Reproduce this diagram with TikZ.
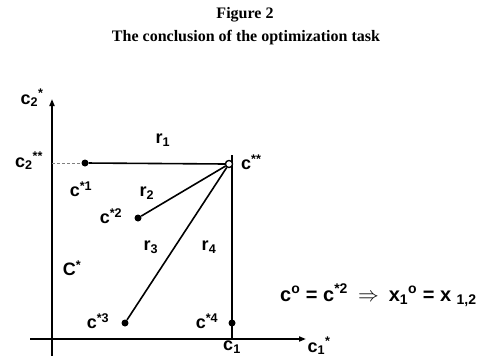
\documentclass[tikz,border=0pt]{standalone}
\usepackage{fontspec}
\setmainfont{Liberation Serif}
\setsansfont{Liberation Sans}
\usetikzlibrary{arrows.meta}
\newcommand\sps[1]{\textsuperscript{#1}}
\newcommand\sbs[1]{\textsubscript{#1}}
\begin{document}
\begin{tikzpicture}[x=1pt,y=-1pt,
  ttl/.style={font=\bfseries\fontsize{16}{16}\selectfont, inner sep=0pt},
  lbl/.style={font=\sffamily\bfseries\fontsize{18}{18}\selectfont, inner sep=0pt},
  axis/.style={line width=2pt, -{Triangle[length=7pt,width=5pt]}},
  edge/.style={line width=1.6pt},
  guide/.style={line width=0.7pt, dash pattern=on 3pt off 2pt, gray},
  dot/.style={circle, fill=black, inner sep=0pt, minimum size=7pt},
  odot/.style={circle, draw=black, line width=1.2pt, fill=white, inner sep=0pt, minimum size=7pt}]
\useasboundingbox (0,0) rectangle (491,356);
% titles
\node[ttl] (t1) at (245,15) {Figure 2};
\node[ttl] (t2) at (246,38) {The conclusion of the optimization task};
% axes
\coordinate (yb) at (52,356);
\coordinate (yt) at (52,99);
\coordinate (xl) at (30,339);
\coordinate (xr) at (306,339);
\draw[axis] (yb) -- (yt);
\draw[axis] (xl) -- (xr);
% points
\coordinate (ya) at (52,163);
\coordinate (vt) at (232,155);
\coordinate (vb) at (232,339);
\coordinate (vm) at (232,285);
\node[dot] (p1) at (85,163) {};
\node[dot] (p2) at (138,218) {};
\node[dot] (p3) at (125,323) {};
\node[dot] (p4) at (232,323) {};
\node[odot] (ps) at (229,164) {};
% lines
\draw[guide] (ya) -- (p1);
\draw[edge] (p1) -- (ps.west);
\draw[edge] (vt) -- (vb);
\draw[line width=2.3pt] (vm) -- (vb);
\draw[edge] (ps) -- (p2);
\draw[edge] (ps) -- (p3);
\node[odot] at (ps) {};
% labels
\node[lbl] (l2s) at (32,98) {c\sbs{2}\sps{*}};
\node[lbl] (l2ss) at (29,161) {c\sbs{2}\sps{**}};
\node[lbl] (lr1) at (163,140) {r\sbs{1}};
\node[lbl, anchor=west] (lcs) at (241,162) {c\sps{**}};
\node[lbl] (lc1) at (81,189) {c\sps{*1}};
\node[lbl] (lr2) at (147,193) {r\sbs{2}};
\node[lbl] (lc2) at (111,216) {c\sps{*2}};
\node[lbl] (lr3) at (151,247) {r\sbs{3}};
\node[lbl] (lr4) at (209,247) {r\sbs{4}};
\node[lbl] (lC) at (72,268) {C\sps{*}};
\node[lbl] (lc3) at (98,321) {c\sps{*3}};
\node[lbl] (lc4) at (207,321) {c\sps{*4}};
\node[lbl] (lx1) at (232,347) {c\sbs{1}};
\node[lbl] (lx1s) at (319,346) {c\sbs{1}\sps{*}};
\node[lbl, anchor=west, font=\sffamily\bfseries\fontsize{20}{20}\selectfont] (eq) at (280,295) {c\sps{o} = c\sps{*2}\enspace$\Rightarrow$\enspace x\sbs{1}\sps{o} = x \sbs{1,2}};
\end{tikzpicture}
\end{document}
